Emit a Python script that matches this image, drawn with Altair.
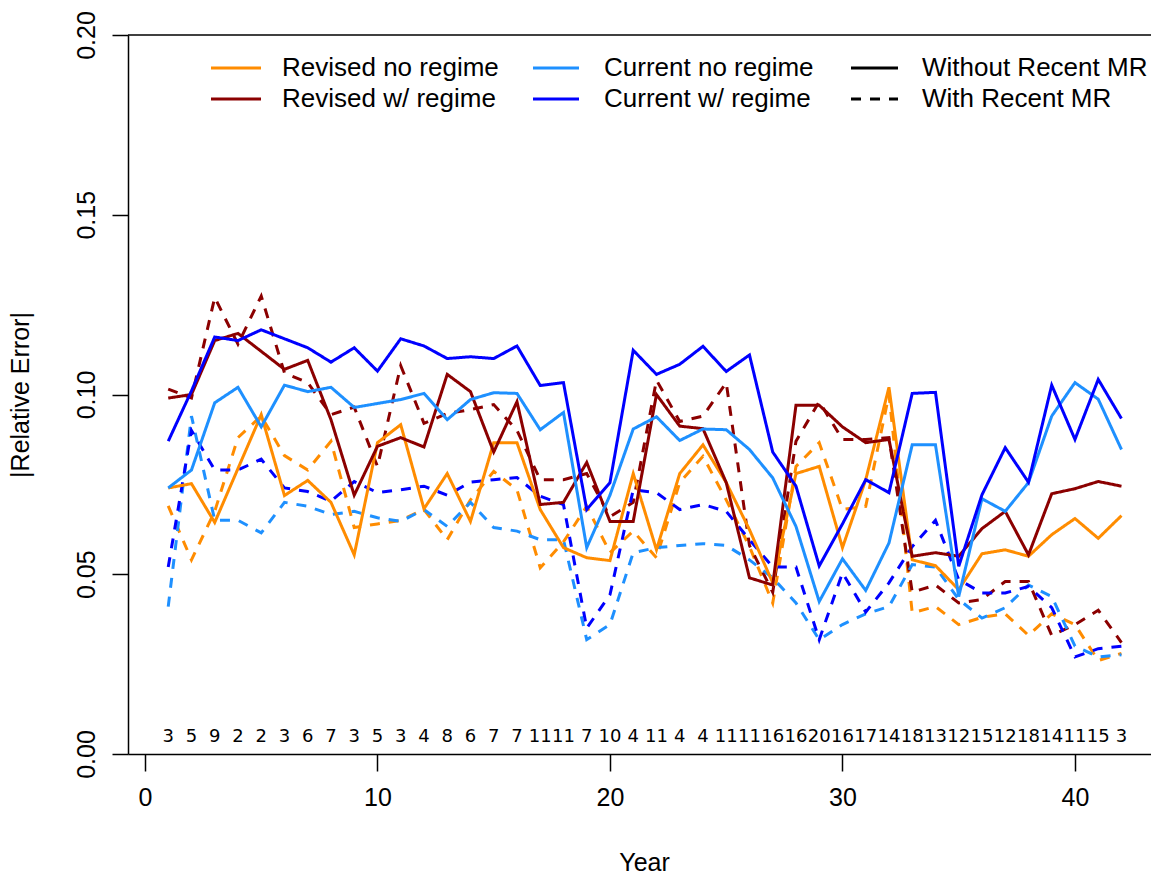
import altair as alt
import pandas as pd

years = list(range(1, 43))

counts = [3, 5, 9, 2, 2, 3, 6, 7, 3, 5, 3, 4, 8, 6, 7, 7, 11, 11, 7, 10,
          4, 11, 4, 4, 11, 11, 16, 16, 20, 16, 17, 14, 18, 13, 12, 15, 12, 18, 14, 11,
          15, 3]

rev_no_solid = [0.074, 0.0752, 0.0644, 0.0794, 0.0944, 0.0719, 0.0761, 0.070, 0.0554, 0.0866,
                0.0916, 0.0682, 0.078, 0.0647, 0.0866, 0.0866, 0.068, 0.0574, 0.0546, 0.0538,
                0.078, 0.0568, 0.078, 0.086, 0.0755, 0.0624, 0.0476, 0.078, 0.080, 0.0574,
                0.0763, 0.102, 0.054, 0.0524, 0.0457, 0.0557, 0.0568, 0.055, 0.061, 0.0655,
                0.060, 0.0663]

rev_reg_solid = [0.099, 0.100, 0.115, 0.117, 0.112, 0.107, 0.1095, 0.093, 0.072, 0.0856,
                 0.088, 0.0854, 0.1056, 0.1008, 0.084, 0.098, 0.0694, 0.070, 0.0811, 0.0647,
                 0.0647, 0.100, 0.0912, 0.0905, 0.0755, 0.049, 0.047, 0.097, 0.097, 0.091,
                 0.0866, 0.0875, 0.055, 0.056, 0.055, 0.0627, 0.0675, 0.0554, 0.0724, 0.0738,
                 0.0758, 0.0745]

cur_no_solid = [0.074, 0.079, 0.0977, 0.102, 0.091, 0.1026, 0.1008, 0.102, 0.0964, 0.0975,
                0.0986, 0.1003, 0.093, 0.0986, 0.1005, 0.1003, 0.0902, 0.095, 0.0574, 0.072,
                0.0904, 0.0938, 0.0872, 0.0904, 0.0902, 0.0847, 0.0768, 0.0633, 0.0424, 0.0543,
                0.0455, 0.0587, 0.086, 0.086, 0.0438, 0.071, 0.0675, 0.0755, 0.094, 0.1033,
                0.0987, 0.0847]

cur_reg_solid = [0.087, 0.101, 0.116, 0.115, 0.118, 0.1155, 0.113, 0.109, 0.113, 0.1065,
                 0.1155, 0.1135, 0.110, 0.1105, 0.110, 0.1135, 0.1025, 0.1033, 0.068, 0.0755,
                 0.1123, 0.1056, 0.1084, 0.1134, 0.1064, 0.111, 0.084, 0.0745, 0.0523, 0.064,
                 0.0763, 0.0727, 0.1003, 0.1006, 0.0522, 0.0721, 0.0852, 0.0756, 0.1026, 0.0875,
                 0.1042, 0.0933]

rev_no_dash = [0.069, 0.054, 0.0675, 0.088, 0.094, 0.083, 0.079, 0.087, 0.063, 0.064,
               0.065, 0.068, 0.0596, 0.0707, 0.0786, 0.0735, 0.0518, 0.059, 0.0689, 0.056,
               0.062, 0.0546, 0.0755, 0.0828, 0.0707, 0.0577, 0.042, 0.080, 0.0866, 0.068,
               0.0689, 0.100, 0.0393, 0.041, 0.036, 0.038, 0.039, 0.033, 0.039, 0.036,
               0.026, 0.028]

rev_reg_dash = [0.1015, 0.099, 0.127, 0.114, 0.1274, 0.106, 0.1033, 0.0944, 0.0965, 0.080,
                0.108, 0.092, 0.0947, 0.0958, 0.0972, 0.090, 0.0763, 0.0763, 0.078, 0.066,
                0.070, 0.104, 0.0925, 0.094, 0.1033, 0.058, 0.045, 0.087, 0.098, 0.0875,
                0.0875, 0.088, 0.045, 0.047, 0.042, 0.043, 0.048, 0.048, 0.033, 0.036,
                0.040, 0.031]

cur_no_dash = [0.041, 0.094, 0.065, 0.065, 0.0615, 0.070, 0.0689, 0.0666, 0.0675, 0.0657,
               0.0647, 0.068, 0.0633, 0.070, 0.063, 0.062, 0.0596, 0.0596, 0.0318, 0.036,
               0.056, 0.0574, 0.058, 0.0585, 0.058, 0.054, 0.049, 0.042, 0.0318, 0.036,
               0.039, 0.041, 0.0527, 0.052, 0.043, 0.0378, 0.0407, 0.047, 0.0438, 0.030,
               0.027, 0.0276]

cur_reg_dash = [0.052, 0.090, 0.079, 0.079, 0.082, 0.074, 0.073, 0.0703, 0.0758, 0.0727,
                0.0735, 0.0745, 0.072, 0.0756, 0.0763, 0.0769, 0.0717, 0.0694, 0.035, 0.0443,
                0.0735, 0.0727, 0.068, 0.0694, 0.0675, 0.0596, 0.052, 0.052, 0.0318, 0.0504,
                0.0395, 0.0476, 0.0577, 0.065, 0.0485, 0.0448, 0.0448, 0.0466, 0.0407, 0.027,
                0.0293, 0.030]

method_names = ["Revised no regime", "Revised w/ regime", "Current no regime", "Current w/ regime"]
method_colors = ["#FF8C00", "#8B0000", "#1E90FF", "#0000FF"]
mr_names = ["Without Recent MR", "With Recent MR"]

series = [
    ("Revised no regime", "With Recent MR", rev_no_dash),
    ("Revised w/ regime", "With Recent MR", rev_reg_dash),
    ("Current no regime", "With Recent MR", cur_no_dash),
    ("Current w/ regime", "With Recent MR", cur_reg_dash),
    ("Revised no regime", "Without Recent MR", rev_no_solid),
    ("Revised w/ regime", "Without Recent MR", rev_reg_solid),
    ("Current no regime", "Without Recent MR", cur_no_solid),
    ("Current w/ regime", "Without Recent MR", cur_reg_solid),
]

rows = []
for order, (m, mr, vals) in enumerate(series):
    for yr, v in zip(years, vals):
        rows.append({"year": yr, "err": v, "method": m, "mr": mr,
                     "key": f"{order}_{m}_{mr}", "ord": order})
df = pd.DataFrame(rows)

FONT = "Liberation Sans"
W, H = 1023, 719

xscale = alt.Scale(domain=[-0.73, 43.27], nice=False, zero=False)
yscale = alt.Scale(domain=[0, 0.2], nice=False, zero=False)

lines = alt.Chart(df).mark_line(strokeWidth=3, clip=True).encode(
    x=alt.X("year:Q", scale=xscale,
            axis=alt.Axis(values=[0, 10, 20, 30, 40], title="Year", grid=False,
                          tickSize=17, labelFontSize=25, labelPadding=14,
                          labelFont=FONT, titleFont=FONT, titleFontSize=25,
                          titleFontWeight="normal", titleX=516, titleY=108,
                          titleBaseline="middle", domainColor="black",
                          tickColor="black", labelColor="black", titleColor="black",
                          domainWidth=1.5, tickWidth=1.5, labelFlush=False)),
    y=alt.Y("err:Q", scale=yscale,
            axis=alt.Axis(values=[0, 0.05, 0.1, 0.15, 0.2], format=".2f",
                          title="|Relative Error|", grid=False, tickSize=16,
                          labelAngle=270, labelAlign="center", labelBaseline="bottom",
                          labelPadding=13, labelFontSize=25, labelFont=FONT,
                          titleFont=FONT, titleFontSize=25, titleFontWeight="normal",
                          titleAngle=270, titleX=-108, titleY=H / 2,
                          titleAlign="center", titleBaseline="middle",
                          domainColor="black", tickColor="black", labelColor="black",
                          titleColor="black", domainWidth=1.5, tickWidth=1.5,
                          labelFlush=False)),
    color=alt.Color("method:N", scale=alt.Scale(domain=method_names, range=method_colors),
                    legend=None),
    strokeDash=alt.StrokeDash("mr:N", scale=alt.Scale(domain=mr_names, range=[[1, 0], [10, 9]]),
                              legend=None),
    detail="key:N",
    order="ord:Q",
)

count_df = pd.DataFrame({"year": years, "n": [str(c) for c in counts]})
count_text = alt.Chart(count_df).mark_text(fontSize=18, font="DejaVu Sans", color="black",
                                           baseline="middle").encode(
    x=alt.X("year:Q", scale=xscale),
    y=alt.value(H - 17),
    text="n:N",
)

one = pd.DataFrame({"k": [0]})

top_border = alt.Chart(one).mark_rule(color="black", strokeWidth=1.5).encode(
    x=alt.value(0), x2=alt.value(W), y=alt.value(0)
)

# manual legend
leg_rows = [33, 64]
leg_cols = [(83, 133, 154), (405, 451, 476), (723, 770, 794)]
legend_items = [
    (0, 0, "Revised no regime", "#FF8C00", [1, 0]),
    (0, 1, "Revised w/ regime", "#8B0000", [1, 0]),
    (1, 0, "Current no regime", "#1E90FF", [1, 0]),
    (1, 1, "Current w/ regime", "#0000FF", [1, 0]),
    (2, 0, "Without Recent MR", "black", [1, 0]),
    (2, 1, "With Recent MR", "black", [10, 9]),
]
legend_layers = []
for c, r, label, col, dash in legend_items:
    x0, x1, tx = leg_cols[c]
    y = leg_rows[r]
    legend_layers.append(
        alt.Chart(one).mark_rule(color=col, strokeWidth=3, strokeDash=dash).encode(
            x=alt.value(x0), x2=alt.value(x1), y=alt.value(y))
    )
    legend_layers.append(
        alt.Chart(one).mark_text(text=label, fontSize=26, font=FONT, color="black",
                                 align="left", baseline="middle").encode(
            x=alt.value(tx), y=alt.value(y))
    )

chart = alt.layer(lines, count_text, top_border, *legend_layers).properties(
    width=W, height=H,
    autosize=alt.AutoSizeParams(type="none"),
    padding={"left": 128, "top": 35, "right": 0, "bottom": 121},
    background="white",
).configure_view(stroke=None)

chart.save("out.html", embed_options={"renderer": "svg", "actions": False})
